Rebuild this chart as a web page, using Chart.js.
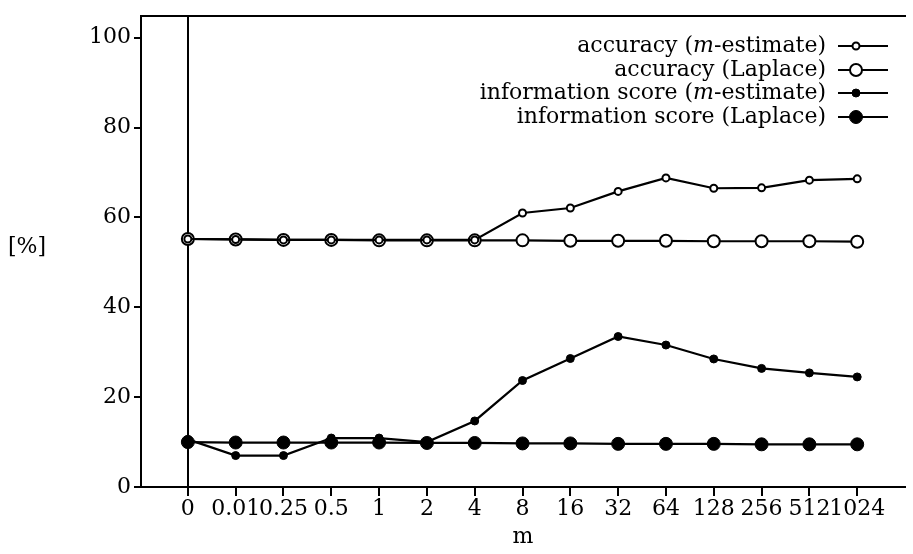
<!DOCTYPE html>
<html>
<head>
<meta charset="utf-8">
<script src="https://cdn.jsdelivr.net/npm/chart.js@4"></script>
<style>
  body { margin: 0; background: #fff; }
</style>
</head>
<body>
<canvas id="myChart" width="913" height="554"></canvas>
<script>
// values of m (x categories)
const mLabels = ['0', '0.01', '0.25', '0.5', '1', '2', '4', '8', '16', '32', '64', '128', '256', '512', '1024'];

// series, in %
const accM = [55.2, 55.1, 55.0, 55.0, 55.0, 55.0, 55.0, 61.0, 62.1, 65.8, 68.8, 66.5, 66.6, 68.3, 68.6];
const accL = [55.2, 55.1, 55.0, 55.0, 54.9, 54.9, 54.9, 54.9, 54.8, 54.8, 54.8, 54.7, 54.7, 54.7, 54.6];
const infoM = [10.6, 7.0, 7.0, 10.9, 10.9, 10.0, 14.7, 23.7, 28.6, 33.5, 31.6, 28.5, 26.4, 25.4, 24.5];
const infoL = [10.0, 9.9, 9.9, 9.9, 9.9, 9.8, 9.8, 9.7, 9.7, 9.6, 9.6, 9.6, 9.5, 9.5, 9.5];

const yTicks = [0, 20, 40, 60, 80, 100];

const FONT = '"DejaVu Serif", "Liberation Serif", serif';
Chart.defaults.color = '#000';
Chart.defaults.font.family = FONT;
Chart.defaults.font.size = 22;

const toPoints = arr => arr.map((v, i) => ({ x: i, y: v }));

// legend drawn text-left / sample-right, with italic m
const sideLegend = {
  id: 'sideLegend',
  afterDraw(chart) {
    const ctx = chart.ctx;
    const textRight = 826;
    const rows = [46, 70, 93, 117];
    ctx.save();
    ctx.textBaseline = 'middle';
    chart.data.datasets.forEach((ds, i) => {
      const y = rows[i];
      // split label around the italic "m"
      let parts;
      const k = ds.label.indexOf('(m-');
      if (k >= 0) {
        parts = [
          [ds.label.slice(0, k + 1), 'normal'],
          ['m', 'italic'],
          [ds.label.slice(k + 2), 'normal']
        ];
      } else {
        parts = [[ds.label, 'normal']];
      }
      let x = textRight;
      for (let j = parts.length - 1; j >= 0; j--) {
        ctx.font = parts[j][1] + ' 22px ' + FONT;
        const w = ctx.measureText(parts[j][0]).width;
        x -= w;
        ctx.fillStyle = '#000';
        ctx.textAlign = 'left';
        ctx.fillText(parts[j][0], x, y);
      }
      // sample line + marker
      ctx.strokeStyle = '#000';
      ctx.lineWidth = 2;
      ctx.beginPath();
      ctx.moveTo(838, y);
      ctx.lineTo(888, y);
      ctx.stroke();
      ctx.beginPath();
      ctx.arc(856, y, ds.pointRadius, 0, Math.PI * 2);
      ctx.fillStyle = ds.pointBackgroundColor;
      ctx.fill();
      ctx.lineWidth = ds.pointBorderWidth;
      ctx.stroke();
    });
    // y axis label
    ctx.font = '22px ' + FONT;
    ctx.textAlign = 'center';
    ctx.fillStyle = '#000';
    ctx.fillText('[%]', 27, 247);
    ctx.restore();
  }
};

const ctx = document.getElementById('myChart').getContext('2d');
const myChart = new Chart(ctx, {
  type: 'line',
  data: {
    datasets: [
      {
        label: 'accuracy (m-estimate)',
        data: toPoints(accM),
        borderColor: '#000', borderWidth: 2.2,
        pointRadius: 3.5, pointBorderWidth: 2,
        pointBackgroundColor: '#fff', pointBorderColor: '#000'
      },
      {
        label: 'accuracy (Laplace)',
        data: toPoints(accL),
        borderColor: '#000', borderWidth: 2.2,
        pointRadius: 6, pointBorderWidth: 2,
        pointBackgroundColor: '#fff', pointBorderColor: '#000'
      },
      {
        label: 'information score (m-estimate)',
        data: toPoints(infoM),
        borderColor: '#000', borderWidth: 2.2,
        pointRadius: 4, pointBorderWidth: 1,
        pointBackgroundColor: '#000', pointBorderColor: '#000'
      },
      {
        label: 'information score (Laplace)',
        data: toPoints(infoL),
        borderColor: '#000', borderWidth: 2.2,
        pointRadius: 6.5, pointBorderWidth: 1,
        pointBackgroundColor: '#000', pointBorderColor: '#000'
      }
    ]
  },
  options: {
    responsive: false,
    animation: false,
    layout: { padding: { left: 0, right: 8, top: 0, bottom: 0 } },
    plugins: { legend: { display: false }, tooltip: { enabled: false } },
    scales: {
      x: {
        type: 'linear',
        position: 'bottom',
        min: -0.98,
        max: 15.0,
        afterBuildTicks: scale => { scale.ticks = mLabels.map((l, i) => ({ value: i })); },
        afterFit: scale => { scale.height = 67; },
        ticks: {
          autoSkip: false,
          maxRotation: 0,
          padding: 0,
          callback: v => mLabels[v]
        },
        grid: {
          drawOnChartArea: true,
          color: c => (c.tick && c.tick.value === 0 ? '#000' : 'rgba(0,0,0,0)'),
          tickColor: '#000',
          tickLength: 9,
          lineWidth: 2
        },
        border: { color: '#000', width: 2 },
        title: { display: true, text: 'm', padding: { top: 0, bottom: 4 } }
      },
      xTop: {
        type: 'linear',
        position: 'top',
        ticks: { display: false },
        grid: { display: false },
        border: { color: '#000', width: 2 },
        afterFit: scale => { scale.height = 5; }
      },
      y: {
        min: 0,
        max: 104.8,
        afterBuildTicks: scale => { scale.ticks = yTicks.map(v => ({ value: v })); },
        afterFit: scale => { scale.width = 141; },
        ticks: { padding: 3 },
        grid: {
          drawOnChartArea: false,
          tickColor: '#000',
          tickLength: 7,
          lineWidth: 2
        },
        border: { color: '#000', width: 2 }
      }
    }
  },
  plugins: [sideLegend]
});
</script>
</body>
</html>
